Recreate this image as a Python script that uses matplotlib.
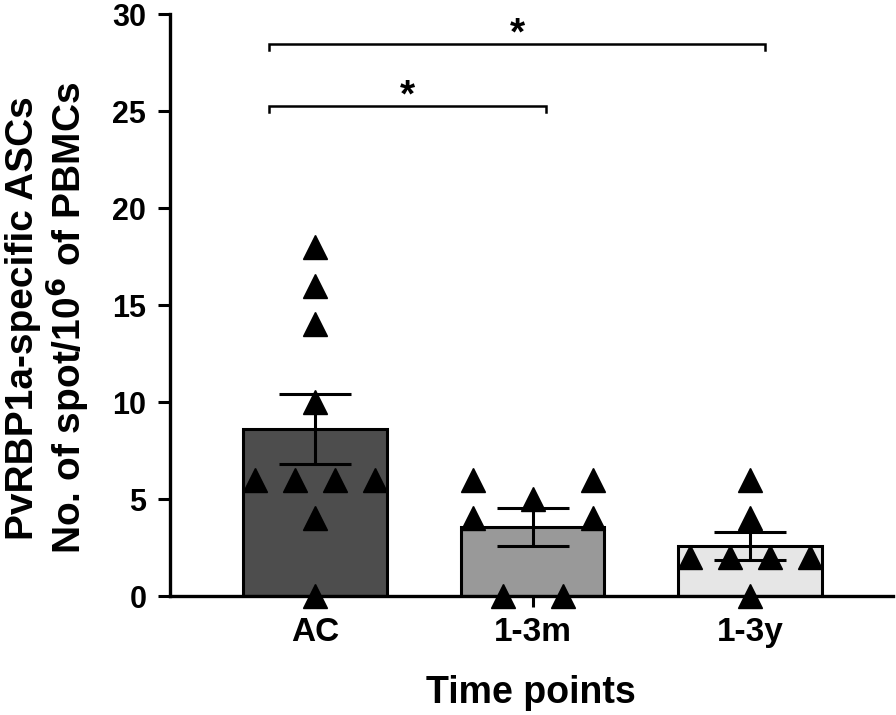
import numpy as np
import matplotlib
matplotlib.use("Agg")
import matplotlib.pyplot as plt

plt.rcParams['font.family'] = ['Liberation Sans', 'DejaVu Sans']
plt.rcParams['font.weight'] = 'bold'

# data (spots per 10^6 PBMCs, one value per subject)
groups = ['AC', '1-3m', '1-3y']
ac_vals = [18, 16, 14, 10, 6, 6, 6, 6, 4, 0]
m13_vals = [6, 6, 5, 4, 4, 0, 0]
y13_vals = [6, 4, 2, 2, 2, 2, 0]
bar_colors = ['#4d4d4d', '#999999', '#e6e6e6']

# horizontal scatter offsets of the points (layout only)
ac_jit = [0, 0, 0, 0, -0.276, -0.092, 0.092, 0.276, 0, 0]
m13_jit = [-0.276, 0.276, 0, -0.276, 0.276, -0.138, 0.138]
y13_jit = [0, 0, -0.276, -0.092, 0.092, 0.276, 0]

series = [ac_vals, m13_vals, y13_vals]
jitters = [ac_jit, m13_jit, y13_jit]

means = [np.mean(v) for v in series]
sems = [np.std(v, ddof=1) / np.sqrt(len(v)) for v in series]

fig = plt.figure(figsize=(8.96, 7.15), dpi=100)
ax = fig.add_axes([0.1897, 0.1664, 0.807, 0.814])

x = np.arange(len(groups))
ax.bar(x, means, width=0.66, color=bar_colors, edgecolor='black', linewidth=2.2, zorder=2)
ax.errorbar(x, means, yerr=sems, fmt='none', ecolor='black', elinewidth=2.2,
            capsize=26, capthick=2.2, zorder=3)

for xi, vals, jit in zip(x, series, jitters):
    ax.plot(xi + np.array(jit), vals, linestyle='none', marker='^', markersize=17,
            color='black', clip_on=False, zorder=4)

# significance brackets
brackets = [(-0.21, 1.06, 25.25), (-0.21, 2.07, 28.45)]
for x0, x1, yb in brackets:
    ax.plot([x0, x0, x1, x1], [yb - 0.3, yb, yb, yb - 0.3], color='black', lw=1.8,
            solid_joinstyle='miter', clip_on=False, zorder=3)
    ax.annotate('*', xy=((x0 + x1) / 2, yb + 1.0), xytext=(0, -14), textcoords='offset points',
                ha='center', va='baseline', fontsize=28, fontweight='bold')

ax.set_xlim(-0.667, 2.657)
ax.set_ylim(0, 30)
ax.set_yticks([0, 5, 10, 15, 20, 25, 30])
ax.set_xticks(x)
ax.set_xticklabels(groups, fontsize=24, fontweight='bold')
ax.tick_params(axis='y', labelsize=22, length=9, width=2.2, pad=8)
ax.tick_params(axis='x', length=8, width=2.2, pad=7)
for lbl in ax.get_yticklabels():
    lbl.set_fontweight('bold')

for side in ['top', 'right']:
    ax.spines[side].set_visible(False)
for side in ['left', 'bottom']:
    ax.spines[side].set_linewidth(2.4)

fig.text(48 / 896, 1 - 318 / 715, 'PvRBP1a-specific ASCs\nNo. of spot/10$^{\\mathbf{6}}$ of PBMCs',
         rotation=90, ha='center', va='center', fontsize=28, fontweight='bold',
         multialignment='center', linespacing=1.05)
fig.text(531 / 896, 1 - 703 / 715, 'Time points', ha='center', va='baseline',
         fontsize=27, fontweight='bold')

fig.savefig('out.png', dpi=100)
